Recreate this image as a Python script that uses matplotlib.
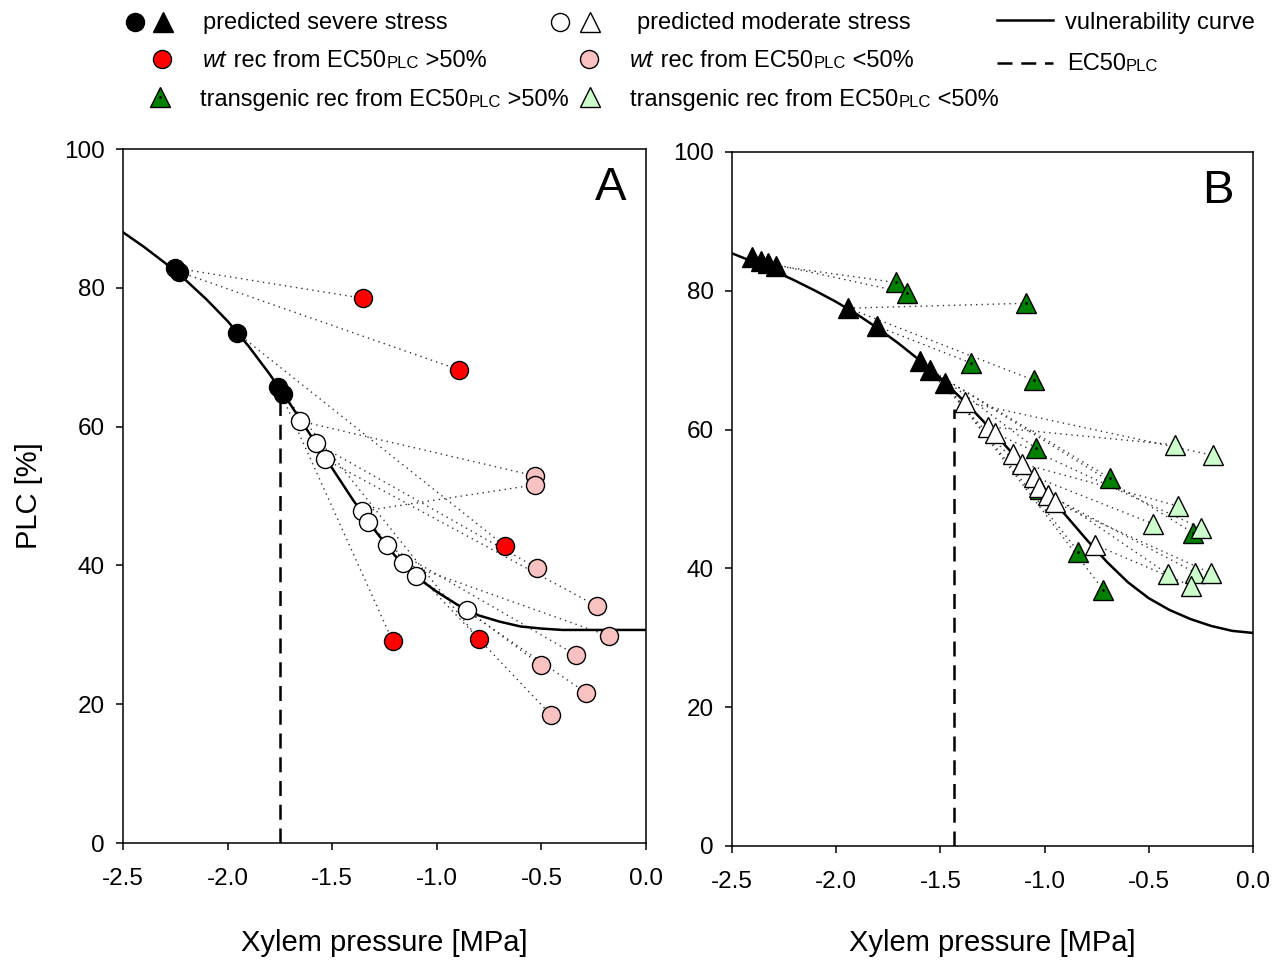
import numpy as np
import matplotlib
matplotlib.use("Agg")
import matplotlib.pyplot as plt

plt.rcParams["font.family"] = ["Liberation Sans", "DejaVu Sans"]
plt.rcParams["axes.unicode_minus"] = False

# ---------------- panel A : wild type ----------------
curve_x = [-2.5, -2.4, -2.3, -2.2, -2.1, -2.0, -1.9, -1.8, -1.7, -1.6, -1.5, -1.4, -1.3,
           -1.2, -1.1, -1.0, -0.9, -0.8, -0.7, -0.6, -0.5, -0.4, -0.3, -0.2, -0.1, 0.0]
curve_a_y = [88.0, 85.9, 83.6, 81.1, 78.3, 75.2, 71.6, 67.6, 63.2, 58.6, 54.0, 49.4, 45.2,
             41.4, 38.4, 36.2, 34.3, 32.8, 31.9, 31.2, 30.9, 30.7, 30.7, 30.7, 30.7, 30.7]
ec50_a = -1.75
ec50_a_top = 63.5

sev_a_x = [-2.251, -2.232, -1.955, -1.759, -1.735]
sev_a_y = [82.85, 82.3, 73.5, 65.7, 64.7]
mod_a_x = [-1.654, -1.578, -1.534, -1.359, -1.33, -1.24, -1.163, -1.101, -0.857]
mod_a_y = [60.8, 57.6, 55.3, 47.8, 46.3, 42.9, 40.4, 38.5, 33.6]

wt_hi_x = [-1.354, -0.895, -0.674, -1.211, -0.798]
wt_hi_y = [78.5, 68.2, 42.8, 29.1, 29.35]
wt_hi_from = [0, 1, 2, 3, 4]          # index into severe points
wt_lo_x = [-0.531, -0.531, -0.519, -0.236, -0.175, -0.335, -0.501, -0.287, -0.453]
wt_lo_y = [52.9, 51.6, 39.6, 34.15, 29.8, 27.1, 25.6, 21.65, 18.4]
wt_lo_from = [0, 3, 1, 2, 6, 5, 8, 7, 4]  # index into moderate points

# ---------------- panel B : transgenic ----------------
curve_b_y = [85.4, 84.2, 82.9, 81.5, 80.0, 78.4, 76.6, 74.6, 72.4, 70.0, 67.4, 64.5, 61.4,
             58.1, 54.7, 51.2, 47.7, 44.2, 40.9, 38.0, 35.7, 34.0, 32.7, 31.7, 31.0, 30.7]
ec50_b = -1.435
ec50_b_top = 63.0

sev_b_x = [-2.404, -2.361, -2.327, -2.289, -1.942, -1.806, -1.598, -1.55, -1.478]
sev_b_y = [84.9, 84.3, 84.0, 83.6, 77.5, 74.9, 69.9, 68.6, 66.7]
mod_b_x = [-1.382, -1.27, -1.238, -1.15, -1.11, -1.049, -1.025, -0.982, -0.95, -0.758]
mod_b_y = [64.0, 60.4, 59.5, 56.5, 55.1, 53.2, 51.8, 50.6, 49.5, 43.4]

tg_hi_x = [-1.715, -1.662, -1.089, -1.353, -1.051, -1.043, -0.686, -0.838, -0.718, -0.286, -1.022]
tg_hi_y = [81.2, 79.7, 78.2, 69.6, 67.1, 57.3, 53.0, 42.4, 36.9, 45.1, 51.5]
tg_hi_from = [3, 2, 4, 5, 4, 6, 7, 8, 8, 7, 6]
tg_lo_x = [-0.374, -0.193, -0.361, -0.478, -0.25, -0.409, -0.278, -0.201, -0.299]
tg_lo_y = [57.8, 56.3, 49.0, 46.4, 45.8, 39.2, 39.4, 39.3, 37.5]
tg_lo_from = [1, 0, 4, 5, 2, 6, 7, 8, 9]

xticks = [-2.5, -2.0, -1.5, -1.0, -0.5, 0.0]
xticklabels = ["-2.5", "-2.0", "-1.5", "-1.0", "-0.5", "0.0"]
yticks = [0, 20, 40, 60, 80, 100]

RED = "#ff0000"
PINK = "#f9c2c2"
DKGREEN = "#008000"
LTGREEN = "#ccffcc"
MS_C = 13
MS_T = 14
DOT = dict(color="0.2", lw=1.0, ls=(0, (1, 3)), zorder=1)
DASH = (0, (6, 3.5))

fig = plt.figure(figsize=(12.8, 9.6), dpi=100)
axA = fig.add_axes([123 / 1280, 1 - 843 / 960, 523 / 1280, 694 / 960])
axB = fig.add_axes([732 / 1280, 1 - 846 / 960, 521 / 1280, 694 / 960])


def connect(ax, fx, fy, tx, ty, idx):
    for i, j in enumerate(idx):
        ax.plot([fx[j], tx[i]], [fy[j], ty[i]], **DOT)


def style_axes(ax, labelpad):
    ax.set_xlim(-2.5, 0.0)
    ax.set_ylim(0, 100)
    ax.set_xticks(xticks)
    ax.set_xticklabels(xticklabels)
    ax.set_yticks(yticks)
    ax.tick_params(direction="out", length=5, width=1.1, labelsize=17.5)
    ax.tick_params(axis="x", pad=13)
    ax.tick_params(axis="y", pad=8)
    for s in ax.spines.values():
        s.set_linewidth(1.1)
    ax.set_xlabel("Xylem pressure [MPa]", fontsize=21, labelpad=labelpad)


# panel A
connect(axA, sev_a_x, sev_a_y, wt_hi_x, wt_hi_y, wt_hi_from)
connect(axA, mod_a_x, mod_a_y, wt_lo_x, wt_lo_y, wt_lo_from)
axA.plot(curve_x, curve_a_y, color="k", lw=1.8, zorder=2)
axA.plot([ec50_a, ec50_a], [0, ec50_a_top], color="k", lw=1.8, ls=DASH, zorder=2)
axA.plot(wt_hi_x, wt_hi_y, "o", ms=MS_C, mfc=RED, mec="k", mew=1, ls="none", zorder=3)
axA.plot(wt_lo_x, wt_lo_y, "o", ms=MS_C, mfc=PINK, mec="k", mew=1, ls="none", zorder=3)
axA.plot(mod_a_x, mod_a_y, "o", ms=MS_C, mfc="white", mec="k", mew=1, ls="none", zorder=4)
axA.plot(sev_a_x, sev_a_y, "o", ms=MS_C, mfc="k", mec="k", mew=1, ls="none", zorder=4)
style_axes(axA, 28)
axA.set_ylabel("PLC [%]", fontsize=21, labelpad=15)
axA.text(0.933, 0.944, "A", transform=axA.transAxes, fontsize=34, ha="center", va="center")

# panel B
connect(axB, sev_b_x, sev_b_y, tg_hi_x, tg_hi_y, tg_hi_from)
connect(axB, mod_b_x, mod_b_y, tg_lo_x, tg_lo_y, tg_lo_from)
axB.plot(curve_x, curve_b_y, color="k", lw=1.8, zorder=2)
axB.plot([ec50_b, ec50_b], [0, ec50_b_top], color="k", lw=1.8, ls=DASH, zorder=2)
axB.plot(tg_hi_x, tg_hi_y, "^", ms=MS_T, mfc=DKGREEN, mec="k", mew=1, ls="none", zorder=3)
axB.plot(tg_hi_x, tg_hi_y, ".", ms=2, color="k", ls="none", zorder=3)
axB.plot(sev_b_x, sev_b_y, "^", ms=MS_T, mfc="k", mec="k", mew=1, ls="none", zorder=4)
axB.plot(mod_b_x, mod_b_y, "^", ms=MS_T, mfc="white", mec="k", mew=1, ls="none", zorder=4)
axB.plot(tg_lo_x, tg_lo_y, "^", ms=MS_T, mfc=LTGREEN, mec="k", mew=1, ls="none", zorder=5)
style_axes(axB, 26)
axB.text(0.933, 0.944, "B", transform=axB.transAxes, fontsize=34, ha="center", va="center")

# ---------------- legend (pixel layout overlay) ----------------
lg = fig.add_axes([0, 0, 1, 1])
lg.set_xlim(0, 1280)
lg.set_ylim(960, 0)
lg.axis("off")
LS = 17
SM = 12
DESC = 0.21  # descent of the font as a fraction of its size


def rich(x, y, parts):
    prev = None
    shift = 0.0
    for part in parts:
        s, size, style = part[:3]
        dx = part[3] if len(part) > 3 else 0
        if prev is None:
            prev = lg.text(x, y, s, fontsize=size, style=style, va="baseline", ha="left")
        else:
            # keep all pieces on one baseline
            new_shift = DESC * (LS - size)
            prev = lg.annotate(s, xy=(1, 0), xycoords=prev, xytext=(dx, new_shift - shift),
                               textcoords="offset points", fontsize=size, style=style,
                               va="bottom", ha="left")
            shift = new_shift


def mk(x, y, m, fc, ms):
    lg.plot([x], [y], m, ms=ms, mfc=fc, mec="k", mew=1, ls="none")


# row 1
mk(135, 22, "o", "k", MS_C)
mk(163, 22, "^", "k", MS_T)
rich(203, 29, [("predicted severe stress", LS, "normal")])
mk(560, 22, "o", "white", MS_C)
mk(590, 22, "^", "white", MS_T)
rich(637, 29, [("predicted moderate stress", LS, "normal")])
lg.plot([997, 1053], [20, 20], color="k", lw=1.8)
rich(1065, 29, [("vulnerability curve", LS, "normal")])

# row 2
mk(162, 59, "o", RED, MS_C)
rich(203, 67, [("wt", LS, "italic"), (" rec from EC50", LS, "normal", 0.5),
               ("PLC", SM, "normal"), (" >50%", LS, "normal")])
mk(589, 59, "o", PINK, MS_C)
rich(630, 67, [("wt", LS, "italic"), (" rec from EC50", LS, "normal", 0.5),
               ("PLC", SM, "normal"), (" <50%", LS, "normal")])
lg.plot([997, 1053], [63, 63], color="k", lw=1.8, ls=DASH)
rich(1067, 70, [("EC50", LS, "normal"), ("PLC", SM, "normal")])

# row 3
mk(160, 97, "^", DKGREEN, MS_T)
lg.plot([160], [97], ".", ms=2, color="k")
rich(200, 106, [("transgenic rec from EC50", LS, "normal"), ("PLC", SM, "normal"),
                (" >50%", LS, "normal")])
mk(590, 97, "^", LTGREEN, MS_T)
rich(630, 106, [("transgenic rec from EC50", LS, "normal"), ("PLC", SM, "normal"),
                (" <50%", LS, "normal")])

fig.savefig("out.png", dpi=100)
